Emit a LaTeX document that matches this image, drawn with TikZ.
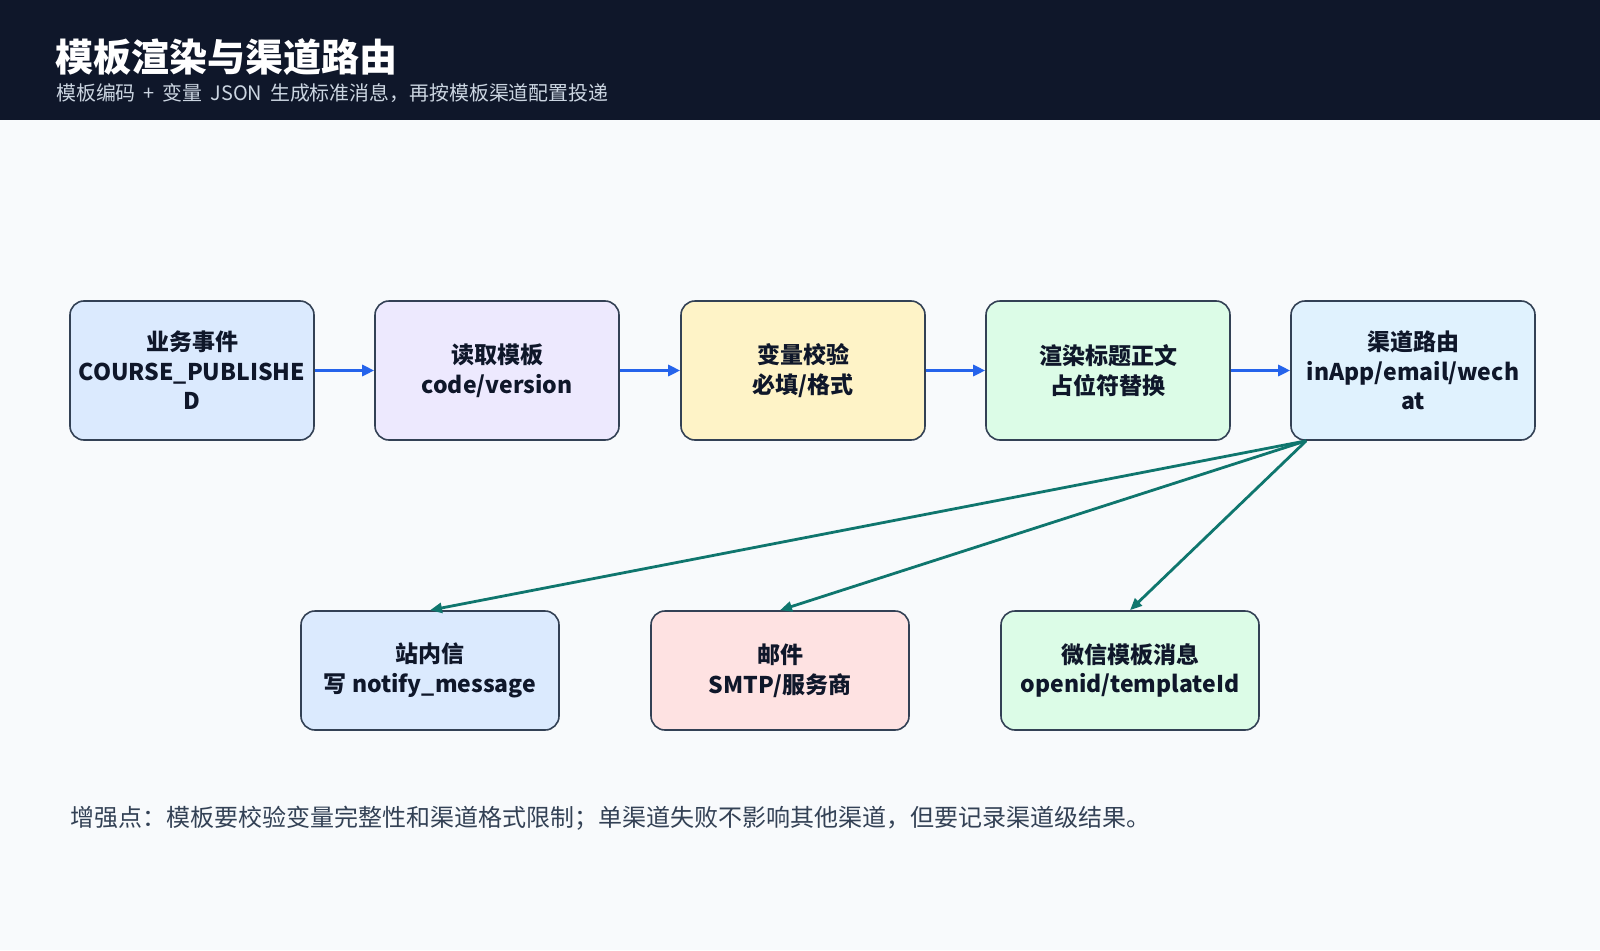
\documentclass[tikz,border=0pt]{standalone}
\usepackage{fontspec}
\setmainfont{Noto Sans CJK SC}
\usepackage{tikz}
\usetikzlibrary{arrows.meta,positioning}
\definecolor{headbg}{HTML}{0F172A}
\definecolor{pagebg}{HTML}{F8FAFC}
\definecolor{edge}{HTML}{334155}
\definecolor{ink}{HTML}{0F172A}
\definecolor{subink}{HTML}{CBD5E1}
\definecolor{noteink}{HTML}{334155}
\definecolor{flowblue}{HTML}{2563EB}
\definecolor{routeteal}{HTML}{0F766E}
\definecolor{fillblue}{HTML}{DBEAFE}
\definecolor{fillviolet}{HTML}{EDE9FE}
\definecolor{fillyellow}{HTML}{FEF3C7}
\definecolor{fillgreen}{HTML}{DCFCE7}
\definecolor{fillsky}{HTML}{E0F2FE}
\definecolor{fillred}{HTML}{FEE2E2}

\begin{document}
\begin{tikzpicture}[x=1pt,y=-1pt,
stage/.style={rectangle, draw=edge, line width=1.6pt, rounded corners=14pt, minimum width=244pt, minimum height=139pt, align=center, text=ink, font=\fontsize{23}{29.6}\selectfont\bfseries},
channel/.style={stage, minimum width=258pt, minimum height=119pt},
flow/.style={-{Triangle[length=12pt,width=11pt]}, line width=3.6pt, flowblue},
route/.style={-{Triangle[length=12pt,width=10pt]}, line width=2.8pt, routeteal}
]
\useasboundingbox (0,0) rectangle (1600,950);
\fill[pagebg] (0,0) rectangle (1600,950);
\fill[headbg] (0,0) rectangle (1600,120);
\node[anchor=west, inner sep=0, text=white, font=\fontsize{38}{45}\selectfont\bfseries] (title) at (55,57) {模板渲染与渠道路由};
\node[anchor=west, inner sep=0, text=subink, font=\fontsize{19.9}{24}\selectfont] (subtitle) at (56,93) {\spaceskip=0.4em\relax 模板编码 + 变量 JSON 生成标准消息，再按模板渠道配置投递};
% main pipeline
\node[stage, fill=fillblue] (event) at (192,370.5) {业务事件\\COURSE\_PUBLISHE\\D};
\node[stage, fill=fillviolet] (load) at (497,370.5) {读取模板\\code/version};
\node[stage, fill=fillyellow] (check) at (803,370.5) {变量校验\\必填/格式};
\node[stage, fill=fillgreen] (render) at (1108,370.5) {渲染标题正文\\占位符替换};
\node[stage, fill=fillsky] (router) at (1413,370.5) {渠道路由\\inApp/email/wech\\at};
% channels
\node[channel, fill=fillblue] (inbox) at (430,670.5) {站内信\\写 notify\_message};
\node[channel, fill=fillred] (mail) at (780,670.5) {邮件\\SMTP/服务商};
\node[channel, fill=fillgreen] (wechat) at (1130,670.5) {微信模板消息\\openid/templateId};
\draw[flow] (event) -- (load);
\draw[flow] (load) -- (check);
\draw[flow] (check) -- (render);
\draw[flow] (render) -- (router);
\coordinate (fork) at ([xshift=16pt]router.south west);
\draw[route] (fork) -- (inbox.north);
\draw[route] (fork) -- (mail.north);
\draw[route] (fork) -- (wechat.north);
\node[anchor=west, inner sep=0, text=noteink, font=\fontsize{24}{28}\selectfont] (note) at (70,818) {增强点：模板要校验变量完整性和渠道格式限制；单渠道失败不影响其他渠道，但要记录渠道级结果。};
\end{tikzpicture}
\end{document}
